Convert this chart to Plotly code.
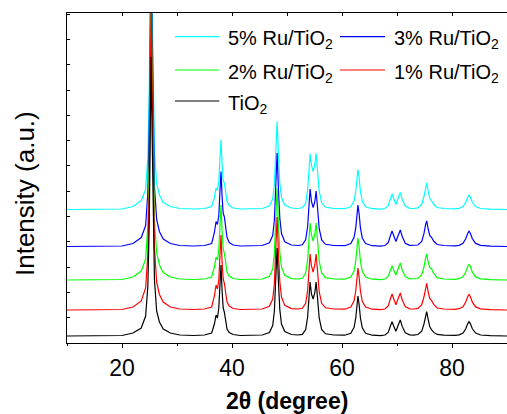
import plotly.graph_objects as go

# 2-theta grid (degrees) at which intensities were read
two_theta = [
    10, 15, 20,
    22, 23.5, 24.3, 24.7, 24.95, 25.12, 25.3, 25.48, 25.65, 25.9, 26.3, 26.8, 27.5, 28.8,
    30.5, 33, 35,
    36.3, 36.8, 37.1, 37.35, 37.6, 37.8, 38.0, 38.2, 38.4, 38.6, 38.85, 39.1, 39.5, 40.2, 41.5,
    43.5,
    45.5, 46.8, 47.4, 47.7, 47.95, 48.2, 48.45, 48.7, 49.0, 49.6, 50.8, 52.0,
    52.8, 53.4, 53.75, 54.0, 54.2, 54.45, 54.75, 55.05, 55.3, 55.55, 55.85, 56.3, 57.0, 58.5,
    60.5, 61.6, 62.2, 62.5, 62.7, 62.9, 63.1, 63.35, 63.7, 64.3, 65.5, 67.0,
    67.8, 68.4, 68.8, 69.1, 69.4, 69.8, 70.25, 70.6, 70.95, 71.5, 72.3, 73.0,
    73.8, 74.5, 74.9, 75.2, 75.4, 75.65, 75.95, 76.3, 76.7, 77.3, 78.5, 80.5,
    81.3, 82.0, 82.5, 82.85, 83.1, 83.35, 83.7, 84.3, 85.2, 87.0, 90.0,
]

# Intensities above each pattern's own baseline (a.u.)
i_ru5 = [
    0, 0, 0.5,
    3, 9, 20, 52, 116, 209, 290, 209, 122, 58, 26, 14.5, 7, 3,
    1, 0.5, 1,
    3, 12, 21.5, 19, 28, 50, 70, 45, 29, 26.5, 17, 8, 4, 1.5, 0.5,
    0.5,
    1, 3.5, 10.5, 24.5, 53, 88, 53, 26, 12, 4.5, 1.5, 1,
    1.7, 6.5, 19.5, 42, 55.5, 44, 38, 45, 56.2, 39, 18.5, 6.7, 2.2, 1,
    0.8, 2.8, 8.8, 18, 32, 40, 32, 18, 8, 2.8, 0.8, 0.4,
    1, 3.9, 10.8, 15.5, 11, 5, 12, 17, 10, 3.5, 1.2, 1,
    1.6, 5.3, 13, 22.7, 26.7, 18.7, 11.2, 8.5, 5, 2, 1, 0.7,
    1.2, 2.9, 7.2, 12.3, 14.5, 12.3, 7.2, 2.9, 1, 0.3, 0,
]
i_ru3 = [
    0, 0, 0.5,
    3, 9, 21, 54, 120, 216, 300, 216, 126, 60, 27, 15, 7.5, 3,
    1, 0.5, 1,
    3, 14, 25, 22, 31, 54, 75, 50, 33, 30, 19, 9, 4, 1.5, 0.5,
    0.5,
    1, 3.7, 11, 26, 56, 93.5, 56, 28, 13, 4.7, 1.5, 1,
    1.7, 7, 20, 43, 57.5, 45, 39, 44.5, 55.5, 39, 18, 6.5, 2.2, 1,
    0.8, 2.9, 9.1, 18.7, 33.2, 41.5, 33.2, 18.7, 8.3, 2.9, 0.8, 0.4,
    1, 3.9, 10.8, 15.5, 11, 5, 11.5, 16.5, 10, 3.3, 1.2, 1,
    1.5, 5.1, 12.8, 21.8, 25.6, 18, 11, 9, 5.2, 2, 1, 0.7,
    1.2, 3.1, 7.7, 13, 15.3, 13, 7.7, 3.1, 1.1, 0.3, 0,
]
i_ru2 = [
    0, 0, 0.5,
    3, 9, 21, 54, 120, 216, 300, 216, 126, 60, 27, 15, 7.5, 3,
    1, 0.5, 1,
    3, 13, 23, 20, 30, 53, 75, 48, 31, 27, 17, 8, 4, 1.5, 0.5,
    0.5,
    1, 3.7, 11, 26, 55, 92, 55, 27.5, 13, 4.6, 1.4, 1,
    1.7, 7, 20, 43, 57, 45, 39, 45.5, 57, 40, 19, 7, 2.3, 1,
    0.8, 2.9, 9.2, 19, 33.6, 42, 33.6, 19, 8.4, 2.9, 0.8, 0.4,
    1, 3.5, 9.8, 14, 10, 5, 12, 17, 10, 3.5, 1.2, 1,
    1.5, 5.2, 13, 22, 26, 18.5, 12.5, 11, 6.5, 2.3, 1, 0.7,
    1.3, 3.1, 7.9, 13.3, 15.7, 13.3, 7.9, 3.1, 1.1, 0.3, 0,
]
i_ru1 = [
    0, 0, 0.5,
    3, 9, 22, 56, 124, 223, 310, 223, 130, 62, 28, 15.5, 8, 3,
    1, 0.5, 1,
    3, 14, 25, 21, 30, 53, 75, 48, 31, 27, 17, 8, 4, 1.5, 0.5,
    0.5,
    1, 3.7, 11, 26, 56, 93, 56, 28, 13, 4.6, 1.4, 1,
    1.7, 6.7, 19.5, 42, 56, 44, 38, 45, 56, 39, 18.5, 6.7, 2.2, 1,
    0.8, 2.9, 9.2, 19, 33.6, 42, 33.6, 19, 8.4, 2.9, 0.8, 0.4,
    1, 4, 11, 16, 11.2, 5.2, 12, 17, 10, 3.5, 1.2, 1,
    1.6, 5.3, 13, 22.7, 26.7, 18.7, 11.5, 9.3, 5.4, 2, 1, 0.7,
    1.3, 3.1, 7.9, 13.3, 15.7, 13.3, 7.9, 3.1, 1.1, 0.3, 0,
]
i_tio2 = [
    0, 0, 0.5,
    3, 8, 20, 50, 112, 201, 279, 201, 117, 56, 25, 14, 7, 3,
    1, 0.5, 1,
    3, 12, 21, 18, 28, 50, 71, 45, 28, 24, 15, 7, 3.5, 1.5, 0.5,
    0.5,
    1, 3.5, 10.5, 24.5, 53, 88, 53, 26, 12, 4.5, 1.5, 1,
    1.6, 6.5, 19, 40, 54, 42, 37, 43, 54, 38, 18, 6.5, 2.2, 1,
    0.8, 2.8, 8.8, 18, 32, 40, 32, 18, 8, 2.8, 0.8, 0.4,
    1, 3.6, 10, 14.3, 10, 4.8, 11.2, 16, 9.6, 3.2, 1.1, 0.9,
    1.5, 4.9, 12, 20.7, 24.3, 17, 9.5, 6, 3.6, 1.6, 0.9, 0.6,
    1.1, 2.9, 7.2, 12.2, 14.3, 12.2, 7.2, 2.9, 1, 0.3, 0,
]

series_names = ["5% Ru/TiO<sub>2</sub>", "3% Ru/TiO<sub>2</sub>", "2% Ru/TiO<sub>2</sub>",
                "1% Ru/TiO<sub>2</sub>", "TiO<sub>2</sub>"]
series_data = [i_ru5, i_ru3, i_ru2, i_ru1, i_tio2]
series_offsets = [133.5, 96.5, 63, 33, 7]
series_colors = ["#00FFFF", "#0000FF", "#00FF00", "#FF0000", "#000000"]

x_ticks = [20, 40, 60, 80]
x_minor = [10, 30, 50, 70, 90]

FONT = "Liberation Sans, Arial, sans-serif"

fig = go.Figure()
for nm, dat, off, col in zip(series_names, series_data, series_offsets, series_colors):
    fig.add_trace(go.Scatter(
        x=two_theta, y=[v + off for v in dat], mode="lines",
        line=dict(color=col, width=1.2), name=nm, showlegend=False,
    ))

# dummy trace to create the top axis
fig.add_trace(go.Scatter(x=[10, 90], y=[None, None], xaxis="x2", mode="lines",
                         showlegend=False, hoverinfo="skip"))

W, H = 507, 414
L, R, T, B = 67, 0, 13, 71
pw, ph = W - L - R, H - T - B

def px_to_paper(px, py):
    return (px - L) / pw, (H - B - py) / ph

fig.update_layout(
    width=W, height=H,
    margin=dict(l=L, r=R, t=T, b=B),
    plot_bgcolor="white", paper_bgcolor="white",
    font=dict(family=FONT, color="black"),
    xaxis=dict(
        range=[10, 90], tickmode="array", tickvals=x_ticks,
        ticks="outside", ticklen=4, tickwidth=1.2, tickcolor="black",
        minor=dict(tickmode="array", tickvals=x_minor, ticks="outside", ticklen=2,
                   tickwidth=1.2, tickcolor="black"),
        showline=True, linecolor="black", linewidth=1.3,
        showgrid=False, zeroline=False,
        tickfont=dict(size=23, family=FONT, color="black"),
    ),
    xaxis2=dict(
        range=[10, 90], overlaying="x", side="top", anchor="y",
        tickmode="array", tickvals=x_minor + x_ticks,
        ticks="inside", ticklen=3, tickwidth=1.2, tickcolor="black",
        showticklabels=False, showline=True, linecolor="black", linewidth=1.3,
        showgrid=False, zeroline=False,
    ),
    yaxis=dict(
        range=[0, 330], tick0=0, dtick=25.3,
        ticks="inside", ticklen=3, tickwidth=1.2, tickcolor="black",
        showticklabels=False, showline=True, linecolor="black", linewidth=1.3,
        showgrid=False, zeroline=False,
    ),
)

annotations = []
# axis titles
ax, ay = px_to_paper(25, 194)
annotations.append(dict(text="Intensity (a.u.)", x=ax, y=ay, xref="paper", yref="paper",
                        xanchor="center", yanchor="middle", textangle=-90, showarrow=False,
                        font=dict(size=26, family=FONT, color="black")))
bx, by = px_to_paper(287, 401)
annotations.append(dict(text="<b>2θ (degree)</b>", x=bx, y=by, xref="paper", yref="paper",
                        xanchor="center", yanchor="middle", showarrow=False,
                        font=dict(size=23, family=FONT, color="black")))

# manual legend (2 columns)
legend_pos = [(175, 219.3, 225.7, 36.7), (340, 385, 391.7, 36.7),
              (175, 219.3, 225.7, 70), (340, 385, 391.7, 70),
              (175, 219.3, 225.7, 101)]
shapes = []
for (x0, x1, xt, yy), nm, col in zip(legend_pos, series_names, series_colors):
    p0, py0 = px_to_paper(x0, yy)
    p1, _ = px_to_paper(x1, yy)
    shapes.append(dict(type="line", xref="paper", yref="paper", x0=p0, x1=p1, y0=py0, y1=py0,
                       line=dict(color=col, width=1.2)))
    tx, ty = px_to_paper(xt, yy)
    annotations.append(dict(text=nm, x=tx, y=ty, xref="paper", yref="paper",
                            xanchor="left", yanchor="middle", showarrow=False, yshift=-3,
                            font=dict(size=20, family=FONT, color="black")))

fig.update_layout(annotations=annotations, shapes=shapes)
fig.write_html("out.html")
